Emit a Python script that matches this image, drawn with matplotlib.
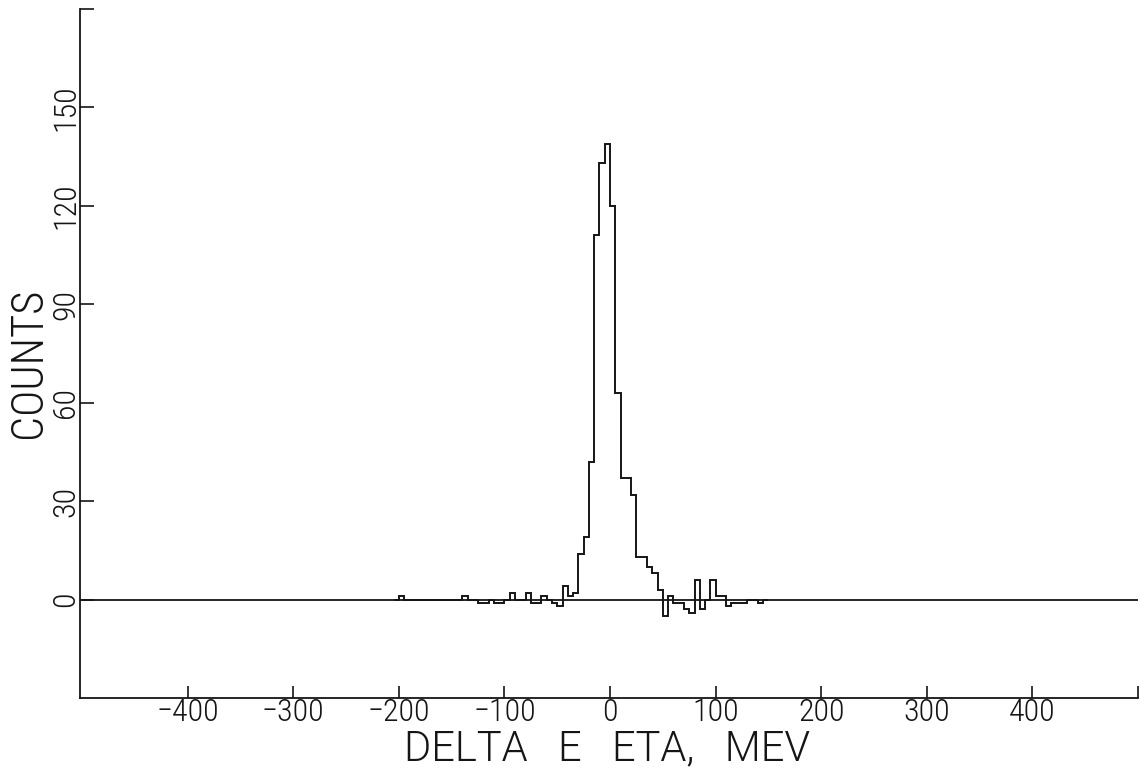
import numpy as np
import matplotlib
matplotlib.use("Agg")
import matplotlib.pyplot as plt
from matplotlib import font_manager

# Histogram of the eta energy difference, 5 MeV bins starting at -205 MeV
bin_start = -205
bin_width = 5
counts = [
    0, 1, 0, 0, 0, 0, 0, 0, 0, 0, 0, 0,          # -205 .. -150
    0, 1, 0, 0, -1, -1, 0, -1, -1, 0,            # -145 .. -100
    2, 0, 0, 2, -1, -1, 1, 0, -1, -2,            # -95 .. -50
    4, 1, 2, 14, 19, 42, 111, 133, 139, 120,     # -45 .. 0
    63, 37, 37, 32, 13, 13, 10, 8, 3, -5,        # 5 .. 50
    1, -1, -1, -3, -4, 6, -3, 0, 6, 1,           # 55 .. 100
    1, -2, -1, -1, -1, 0, 0, -1, 0,              # 105 .. 145
]
edges = bin_start + bin_width * np.arange(len(counts) + 1)

x_ticks = [-400, -300, -200, -100, 0, 100, 200, 300, 400, 500]
x_tick_labels = ["\u2212400", "\u2212300", "\u2212200", "\u2212100", "0",
                 "100", "200", "300", "400", ""]
y_ticks = [0, 30, 60, 90, 120, 150, 180]
y_tick_labels = ["0", "30", "60", "90", "120", "150", ""]

x_label = "DELTA   E   ETA,   MEV"
y_label = "COUNTS"

available = {f.name for f in font_manager.fontManager.ttflist}
narrow = [f for f in ["Roboto Condensed", "Liberation Sans", "DejaVu Sans"]
          if f in available]
wide = [f for f in ["Roboto", "Liberation Sans", "DejaVu Sans"]
        if f in available]
plt.rcParams["font.family"] = narrow
plt.rcParams["font.weight"] = 300

ink = "#151515"
W, H = 1140, 768
fig = plt.figure(figsize=(W / 100, H / 100), dpi=100)
ax_left, ax_right, ax_top, ax_bottom = 80, 1138, 9, 698
ax = fig.add_axes([ax_left / W, 1 - ax_bottom / H,
                   (ax_right - ax_left) / W, (ax_bottom - ax_top) / H])


def px_to_axes(px, py):
    return ((px - ax_left) / (ax_right - ax_left),
            (ax_bottom - py) / (ax_bottom - ax_top))


ax.axhline(0, color=ink, lw=1.3, zorder=2)
ax.stairs(counts, edges, baseline=0, color=ink, lw=1.4, zorder=3)

ax.set_xlim(-502, 500)
ax.set_ylim(-30, 180)

for side in ("top", "right"):
    ax.spines[side].set_visible(False)
for side in ("left", "bottom"):
    ax.spines[side].set_linewidth(1.3)
    ax.spines[side].set_color(ink)

ax.set_xticks(x_ticks)
ax.set_xticklabels(x_tick_labels, fontsize=23, color=ink)
ax.set_yticks(y_ticks)
ax.set_yticklabels(y_tick_labels, fontsize=23, color=ink, rotation=90,
                   va="center")
ax.tick_params(axis="x", direction="in", length=9, width=1.2, pad=0, colors=ink)
ax.tick_params(axis="y", direction="in", length=10, width=1.2, pad=0, colors=ink)

xl = px_to_axes(607, 760)
ax.text(xl[0], xl[1], x_label, transform=ax.transAxes, ha="center",
        va="baseline", fontsize=30, color=ink, family=wide)
yl = px_to_axes(41, 363)
ax.text(yl[0], yl[1], y_label, transform=ax.transAxes, ha="center",
        va="baseline", rotation=90, rotation_mode="anchor", fontsize=32,
        color=ink)

fig.savefig("out.png", dpi=100, facecolor="white")
